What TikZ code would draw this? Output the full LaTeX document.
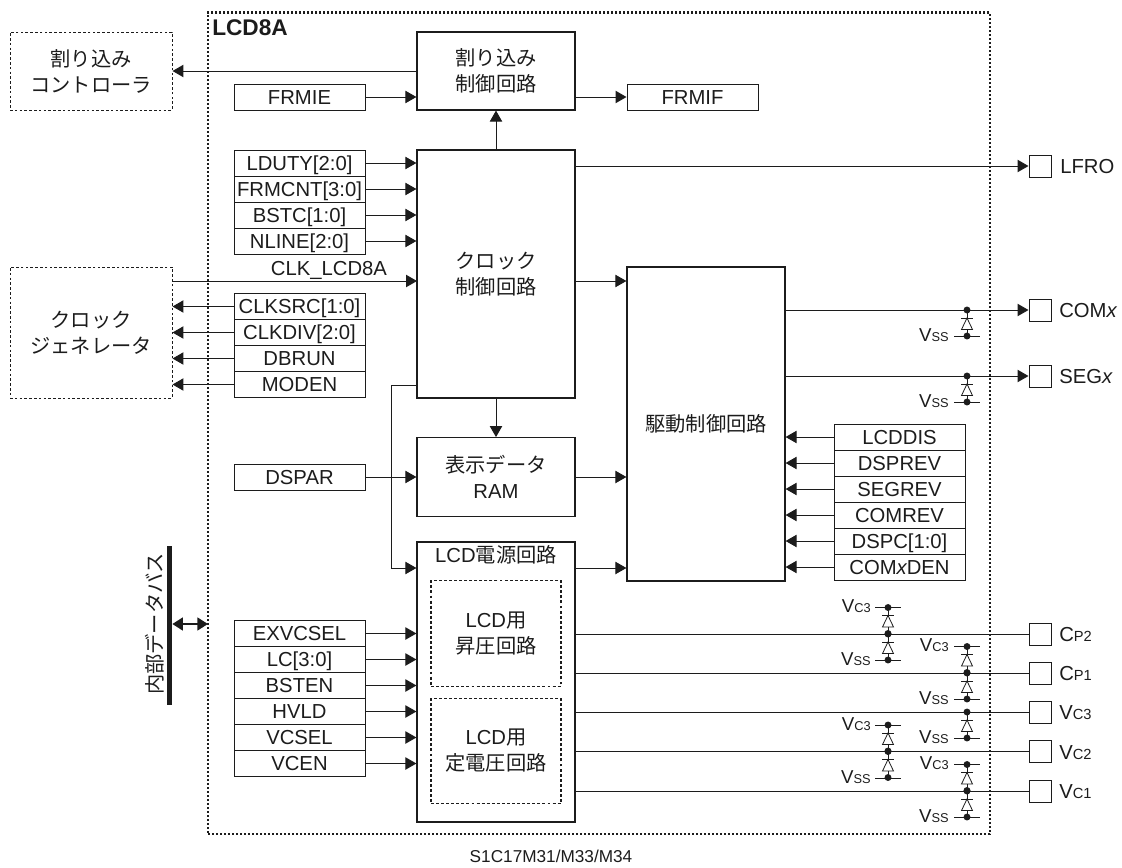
\documentclass[tikz,border=0pt]{standalone}
\usepackage{fontspec}
\setmainfont{Liberation Sans}
\newfontfamily\jp{Noto Sans CJK JP}
\usetikzlibrary{arrows.meta}
\definecolor{ink}{HTML}{1C1C1C}
\newcommand{\txtsz}{\fontsize{15.2}{19.5}\selectfont}
\newcommand{\vsub}[1]{{\fontsize{9.6}{12}\selectfont #1}}
\newcommand{\tsub}[1]{{\fontsize{11}{12}\selectfont #1}}
\tikzset{
  every node/.style={font=\txtsz,text=ink},
  modul/.style={draw=ink,dash pattern=on 1.6pt off 1.4pt,line width=1.9pt,minimum width=586.5pt,minimum height=616pt},
  ext/.style={draw=ink,dash pattern=on 2pt off 1.6pt,line width=0.75pt,minimum width=121.5pt,align=center},
  inner/.style={draw=ink,dash pattern=on 2.2pt off 1.6pt,line width=0.85pt,minimum width=97.5pt,minimum height=79pt,align=center},
  blk/.style={draw=ink,line width=0.9pt,minimum width=118.5pt,align=center},
  reg/.style={draw=ink,line width=0.75pt,minimum width=98.25pt,minimum height=19.5pt,inner sep=0pt,text height=11pt,text depth=0pt},
  term/.style={draw=ink,line width=0.75pt,minimum size=16.5pt,inner sep=0pt},
  tlbl/.style={anchor=base west,inner sep=0pt},
  vlbl/.style={anchor=base east,inner sep=0pt,font=\fontsize{14}{16}\selectfont},
  sig/.style={-{Triangle[length=8.2pt,width=9.2pt]},ink,line width=0.75pt},
  wire/.style={ink,line width=0.75pt},
  busarr/.style={{Triangle[length=8pt,width=9.5pt]}-{Triangle[length=8pt,width=9.5pt]},ink,line width=2pt},
  diode/.pic={
    \draw[wire] (0,0)--(0,8);
    \draw[wire,line width=0.6pt] (-6,8)--(6,8);
    \draw[wire,line width=0.6pt] (0,8)--(-5.5,19.5)--(5.5,19.5)--cycle;
    \draw[wire] (0,19.5)--(0,26);
    \fill[ink] (0,0) circle (2.6pt);
    \fill[ink] (0,26) circle (2.6pt);
  },
  rail/.pic={\draw[wire,line width=0.6pt] (-13,0)--(13,0);},
}
\begin{document}
\begin{tikzpicture}[x=0.75pt,y=-0.75pt]
  \useasboundingbox (0,0) rectangle (1122,868);
  % module frame and outside blocks
  \node[modul] (lcd) at (599,423.2) {};
  \node[tlbl,font=\fontsize{17}{18}\selectfont\bfseries] (lcdl) at (212,35) {LCD8A};
  \node[ext,minimum height=58.5pt] (intc) at (91,71) {\jp 割り込み\\\jp コントローラ};
  \node[ext,minimum height=98.25pt] (clkgen) at (91,332.5) {\jp クロック\\\jp ジェネレータ};
  \node[fill=ink,minimum width=3.75pt,minimum height=119pt,inner sep=0pt] (bus) at (169.5,625.5) {};
  \node[rotate=90,inner sep=0pt] (busl) at (155,624) {\jp 内部データバス};
  \node[font=\fontsize{12.9}{15}\selectfont] (chip) at (551,856) {S1C17M31/M33/M34};
  % main blocks
  \node[blk,minimum height=58.5pt] (irqctl) at (496,71) {\jp 割り込み\\\jp 制御回路};
  \node[blk,minimum height=186pt] (clkctl) at (496,274) {\jp クロック\\\jp 制御回路};
  \node[blk,minimum height=59pt] (ram) at (496,477) {\jp 表示データ\\RAM};
  \node[blk,minimum height=210pt] (pwr) at (496,682) {};
  \node (pwrl) at (496,555) {LCD{\jp 電源回路}};
  \node[inner] (boost) at (496,633.5) {LCD{\jp 用}\\\jp 昇圧回路};
  \node[inner] (regu) at (496,751) {LCD{\jp 用}\\\jp 定電圧回路};
  \node[blk,minimum height=235.5pt] (drv) at (706,424) {\jp 駆動制御回路};
  % registers
  \node[reg] (frmie) at (299.5,97) {FRMIE};
  \node[reg] (frmif) at (692.5,97) {FRMIF};
  \node[reg] (lduty) at (299.5,163) {LDUTY[2:0]};
  \node[reg] (frmcnt) at (299.5,189) {FRMCNT[3:0]};
  \node[reg] (bstc) at (299.5,215) {BSTC[1:0]};
  \node[reg] (nline) at (299.5,241) {NLINE[2:0]};
  \node[reg] (clksrc) at (299.5,306.5) {CLKSRC[1:0]};
  \node[reg] (clkdiv) at (299.5,332.5) {CLKDIV[2:0]};
  \node[reg] (dbrun) at (299.5,358.5) {DBRUN};
  \node[reg] (moden) at (299.5,384.5) {MODEN};
  \node[reg] (dspar) at (299.5,477) {DSPAR};
  \node[reg] (exvcsel) at (299.5,633.5) {EXVCSEL};
  \node[reg] (lcbits) at (299.5,659.5) {LC[3:0]};
  \node[reg] (bsten) at (299.5,685.5) {BSTEN};
  \node[reg] (hvld) at (299.5,711.5) {HVLD};
  \node[reg] (vcsel) at (299.5,737.5) {VCSEL};
  \node[reg] (vcen) at (299.5,763.5) {VCEN};
  \node[reg] (lcddis) at (899.5,437) {LCDDIS};
  \node[reg] (dsprev) at (899.5,463) {DSPREV};
  \node[reg] (segrev) at (899.5,489) {SEGREV};
  \node[reg] (comrev) at (899.5,515) {COMREV};
  \node[reg] (dspc) at (899.5,541) {DSPC[1:0]};
  \node[reg] (comden) at (899.5,567) {COM{\itshape x}DEN};
  % terminals
  \node[term] (lfro) at (1040,166) {};
  \node[term] (comx) at (1040,310) {};
  \node[term] (segx) at (1040,376) {};
  \node[term] (cptwo) at (1040,634) {};
  \node[term] (cpone) at (1040,673) {};
  \node[term] (vcthree) at (1040,712) {};
  \node[term] (vctwo) at (1040,751.5) {};
  \node[term] (vcone) at (1040,791) {};
  \node[tlbl] (lfrol) at (1060,173.5) {LFRO};
  \node[tlbl] (comxl) at (1059,317.5) {COM{\itshape x}};
  \node[tlbl] (segxl) at (1059,383.5) {SEG{\itshape x}};
  \node[tlbl] (cptwol) at (1059,641.5) {C\tsub{P2}};
  \node[tlbl] (cponel) at (1059,680.5) {C\tsub{P1}};
  \node[tlbl] (vcthreel) at (1059,719.5) {V\tsub{C3}};
  \node[tlbl] (vctwol) at (1059,759) {V\tsub{C2}};
  \node[tlbl] (vconel) at (1059,798.5) {V\tsub{C1}};
  % connectors
  \coordinate (clkin) at (417,281);
  \coordinate (brkt) at (391,385);
  \coordinate (brkb) at (391,568);
  \coordinate (busr) at (208,624);
  \node[inner sep=0pt] (clkl) at (329,270) {CLK\_LCD8A};
  \draw[sig] (irqctl) -- (intc);
  \draw[sig] (frmie) -- (frmie -| irqctl.west);
  \draw[sig] (frmif -| irqctl.east) -- (frmif);
  \draw[sig] (clkctl) -- (irqctl);
  \draw[sig] (clkctl) -- (ram);
  \draw[sig] (lduty) -- (lduty -| clkctl.west);
  \draw[sig] (frmcnt) -- (frmcnt -| clkctl.west);
  \draw[sig] (bstc) -- (bstc -| clkctl.west);
  \draw[sig] (nline) -- (nline -| clkctl.west);
  \draw[sig] (clkin -| clkgen.east) -- (clkin);
  \draw[sig] (clksrc) -- (clksrc -| clkgen.east);
  \draw[sig] (clkdiv) -- (clkdiv -| clkgen.east);
  \draw[sig] (dbrun) -- (dbrun -| clkgen.east);
  \draw[sig] (moden) -- (moden -| clkgen.east);
  \draw[sig] (brkt -| clkctl.west) -- (brkt) -- (brkb) -- (brkb -| pwr.west);
  \draw[sig] (dspar) -- (ram);
  \draw[sig] (ram) -- (ram -| drv.west);
  \draw[sig] (clkin -| clkctl.east) -- (clkin -| drv.west);
  \draw[sig] (brkb -| pwr.east) -- (brkb -| drv.west);
  \draw[sig] (exvcsel) -- (exvcsel -| pwr.west);
  \draw[sig] (lcbits) -- (lcbits -| pwr.west);
  \draw[sig] (bsten) -- (bsten -| pwr.west);
  \draw[sig] (hvld) -- (hvld -| pwr.west);
  \draw[sig] (vcsel) -- (vcsel -| pwr.west);
  \draw[sig] (vcen) -- (vcen -| pwr.west);
  \draw[sig] (lcddis) -- (lcddis -| drv.east);
  \draw[sig] (dsprev) -- (dsprev -| drv.east);
  \draw[sig] (segrev) -- (segrev -| drv.east);
  \draw[sig] (comrev) -- (comrev -| drv.east);
  \draw[sig] (dspc) -- (dspc -| drv.east);
  \draw[sig] (comden) -- (comden -| drv.east);
  \draw[busarr] (bus.east |- busr) -- (busr);
  \draw[sig] (lfro -| clkctl.east) -- (lfro);
  \draw[sig] (comx -| drv.east) -- (comx);
  \draw[sig] (segx -| drv.east) -- (segx);
  \draw[wire] (cptwo -| pwr.east) -- (cptwo);
  \draw[wire] (cpone -| pwr.east) -- (cpone);
  \draw[wire] (vcthree -| pwr.east) -- (vcthree);
  \draw[wire] (vctwo -| pwr.east) -- (vctwo);
  \draw[wire] (vcone -| pwr.east) -- (vcone);
  % protection diodes
  \pic at (967,310) {diode};
  \pic at (967,336.5) {rail};
  \node[vlbl] (vssa) at (949,341.5) {V\vsub{SS}};
  \pic at (967,376) {diode};
  \pic at (967,402) {rail};
  \node[vlbl] (vssb) at (949,407) {V\vsub{SS}};
  \pic at (888,607.5) {rail};
  \node[vlbl] (vcca) at (871,612.5) {V\vsub{C3}};
  \pic at (888,607.5) {diode};
  \pic at (888,634) {diode};
  \pic at (888,660) {rail};
  \node[vlbl] (vssc) at (871,665) {V\vsub{SS}};
  \pic at (967,646.5) {rail};
  \node[vlbl] (vccb) at (949,651.5) {V\vsub{C3}};
  \pic at (967,646.5) {diode};
  \pic at (967,673) {diode};
  \pic at (967,699) {rail};
  \node[vlbl] (vssd) at (949,704) {V\vsub{SS}};
  \pic at (967,712) {diode};
  \pic at (967,738) {rail};
  \node[vlbl] (vsse) at (949,743) {V\vsub{SS}};
  \pic at (888,725) {rail};
  \node[vlbl] (vccc) at (871,730) {V\vsub{C3}};
  \pic at (888,725) {diode};
  \pic at (888,751.5) {diode};
  \pic at (888,778) {rail};
  \node[vlbl] (vssf) at (871,783) {V\vsub{SS}};
  \pic at (967,764.5) {rail};
  \node[vlbl] (vccd) at (949,769.5) {V\vsub{C3}};
  \pic at (967,764.5) {diode};
  \pic at (967,791) {diode};
  \pic at (967,817) {rail};
  \node[vlbl] (vssg) at (949,822) {V\vsub{SS}};
\end{tikzpicture}
\end{document}
